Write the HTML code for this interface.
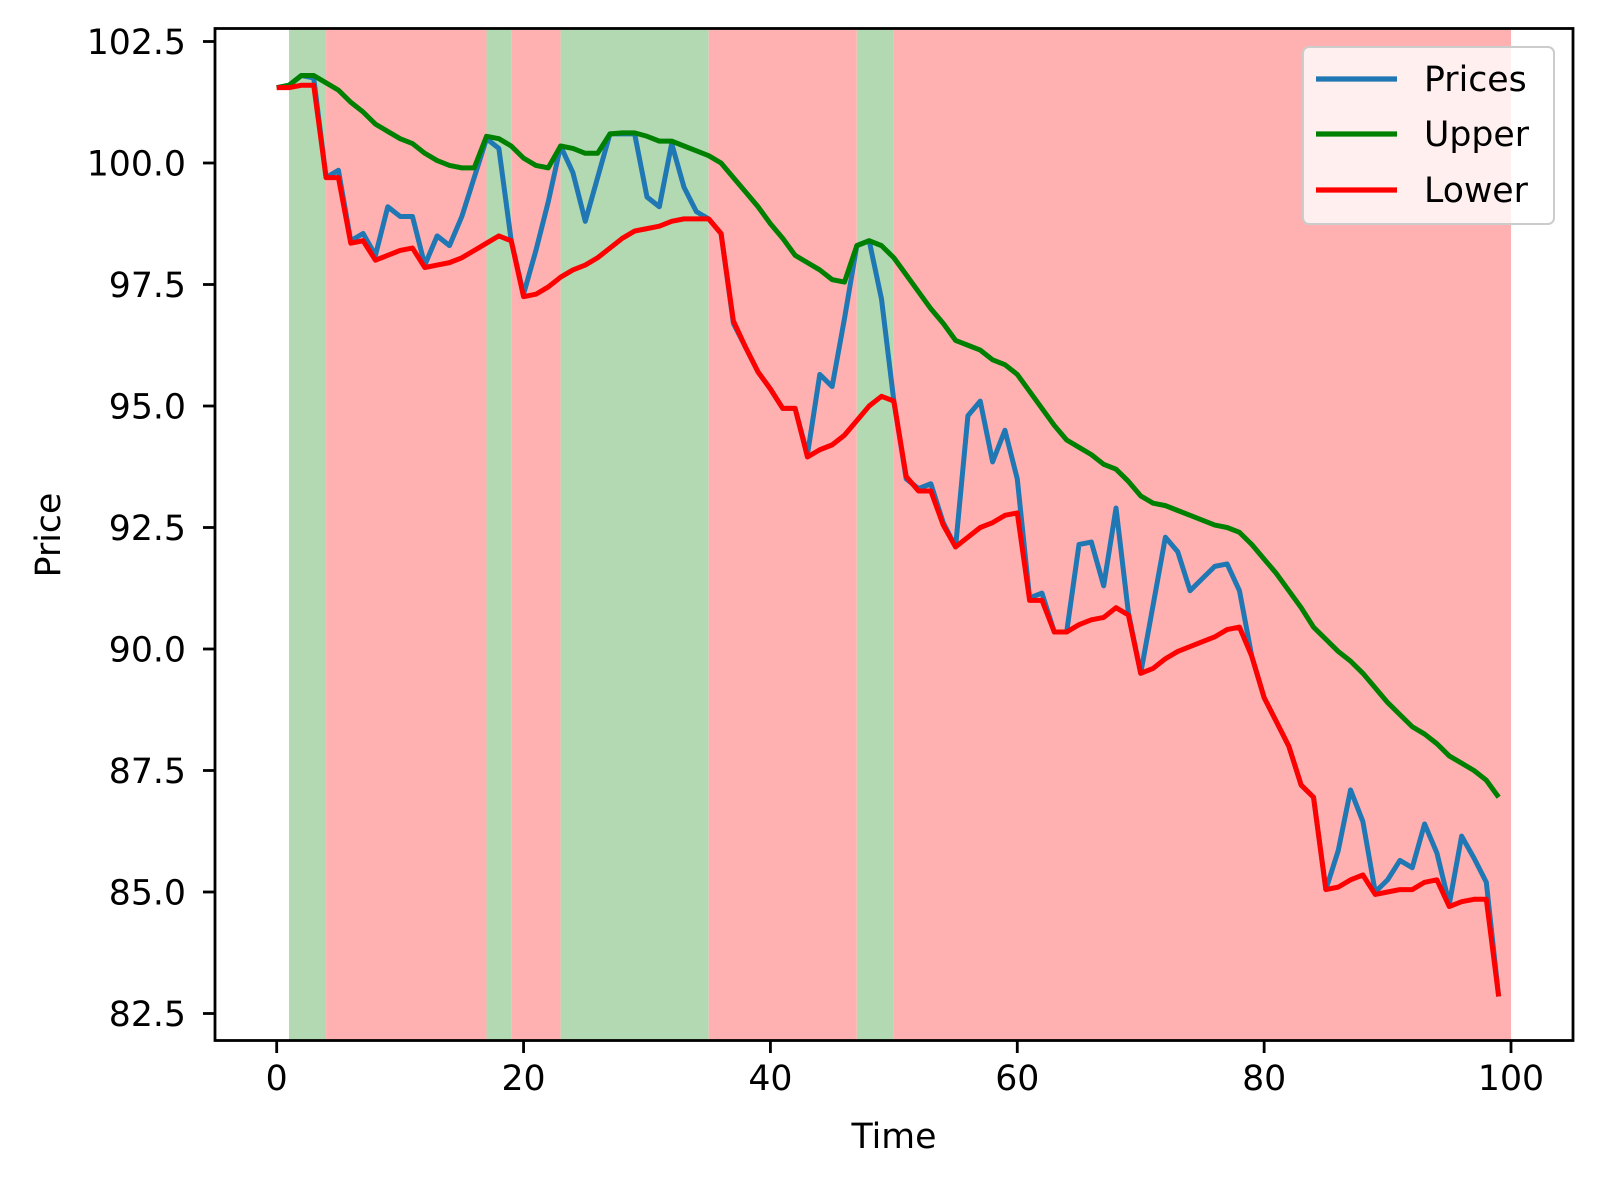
<!DOCTYPE html>
<html><head><meta charset="utf-8"><style>body{margin:0;background:#fff}svg{display:block;font-family:"DejaVu Sans","Liberation Sans",sans-serif}</style></head>
<body>
<svg id="chart" width="1600" height="1183" viewBox="0 0 1600 1183" xmlns="http://www.w3.org/2000/svg">
<g id="spans"></g>
<g id="lines"></g>
<rect x="215" y="28.5" width="1358" height="1012" fill="none" stroke="#000" stroke-width="2.8"/>
<g id="xticks"></g>
<g id="yticks"></g>
<text x="894" y="1148" font-size="34.7" text-anchor="middle">Time</text>
<text transform="translate(60,535) rotate(-90)" font-size="34.7" text-anchor="middle">Price</text>
<g>
<rect x="1303" y="47" width="251" height="177" rx="6" fill="#fff" fill-opacity="0.8" stroke="#ccc" stroke-width="2"/>
<g><line x1="1316" y1="79" x2="1397" y2="79" stroke="#1f77b4" stroke-width="5.2"/><text x="1424" y="91" font-size="34.7">Prices</text></g>
<g><line x1="1316" y1="134" x2="1397" y2="134" stroke="#008000" stroke-width="5.2"/><text x="1424" y="146" font-size="34.7">Upper</text></g>
<g><line x1="1316" y1="190" x2="1397" y2="190" stroke="#ff0000" stroke-width="5.2"/><text x="1424" y="202" font-size="34.7">Lower</text></g>
</g>
</svg>
<script>
const prices=[101.55,101.6,101.8,101.75,99.7,99.85,98.4,98.55,98.1,99.1,98.9,98.9,97.9,98.5,98.3,98.9,99.7,100.5,100.3,98.4,97.3,98.2,99.2,100.35,99.8,98.8,99.7,100.6,100.6,100.6,99.3,99.1,100.4,99.5,99.0,98.85,98.55,96.7,96.2,95.7,95.35,94.95,94.95,94.0,95.65,95.4,96.8,98.3,98.4,97.2,95.1,93.5,93.3,93.4,92.6,92.1,94.8,95.1,93.85,94.5,93.5,91.05,91.15,90.35,90.35,92.15,92.2,91.3,92.9,90.75,89.5,90.9,92.3,92.0,91.2,91.45,91.7,91.75,91.2,89.85,89.0,88.5,88.0,87.2,86.95,85.05,85.85,87.1,86.45,85.0,85.25,85.65,85.5,86.4,85.8,84.75,86.15,85.7,85.2,82.85];
const upper=[101.55,101.6,101.8,101.8,101.65,101.5,101.25,101.05,100.8,100.65,100.5,100.4,100.2,100.05,99.95,99.9,99.9,100.55,100.5,100.35,100.1,99.95,99.9,100.35,100.3,100.2,100.2,100.6,100.62,100.62,100.55,100.45,100.45,100.35,100.25,100.15,100.0,99.7,99.4,99.1,98.75,98.45,98.1,97.95,97.8,97.6,97.55,98.3,98.4,98.3,98.05,97.7,97.35,97.0,96.7,96.35,96.25,96.15,95.95,95.85,95.65,95.3,94.95,94.6,94.3,94.15,94.0,93.8,93.7,93.45,93.15,93.0,92.95,92.85,92.75,92.65,92.55,92.5,92.4,92.15,91.85,91.55,91.2,90.85,90.45,90.2,89.95,89.75,89.5,89.2,88.9,88.65,88.4,88.25,88.05,87.8,87.65,87.5,87.3,86.95];
const lower=[101.55,101.55,101.6,101.6,99.7,99.7,98.35,98.4,98.0,98.1,98.2,98.25,97.85,97.9,97.95,98.05,98.2,98.35,98.5,98.4,97.25,97.3,97.45,97.65,97.8,97.9,98.05,98.25,98.45,98.6,98.65,98.7,98.8,98.85,98.85,98.85,98.55,96.75,96.2,95.7,95.35,94.95,94.95,93.95,94.1,94.2,94.4,94.7,95.0,95.2,95.1,93.55,93.25,93.25,92.55,92.1,92.3,92.5,92.6,92.75,92.8,91.0,91.0,90.35,90.35,90.5,90.6,90.65,90.85,90.7,89.5,89.6,89.8,89.95,90.05,90.15,90.25,90.4,90.45,89.85,89.0,88.5,88.0,87.2,86.95,85.05,85.1,85.25,85.35,84.95,85.0,85.05,85.05,85.2,85.25,84.7,84.8,84.85,84.85,82.85];
const spanStarts=[1,4,17,19,23,35,47,50];
const spanEnds=[4,17,19,23,35,47,50,100];
const spanTypes=["up","down","up","down","up","down","up","down"];
const xTicks=[0,20,40,60,80,100];
const yTicks=[82.5,85.0,87.5,90.0,92.5,95.0,97.5,100.0,102.5];
const NS="http://www.w3.org/2000/svg";
const X=v=>276.7+v*12.343;
const Y=v=>41.5+(102.5-v)*48.6;
function mk(t,a,p){const e=document.createElementNS(NS,t);for(const k in a)e.setAttribute(k,a[k]);p.appendChild(e);return e;}
const sp=document.getElementById('spans');
spanStarts.forEach((s,i)=>{const r=mk('rect',{x:X(s),y:29,width:X(spanEnds[i])-X(s),height:1011,fill:spanTypes[i]==='up'?'#b3d9b3':'#ffb1b1'},sp);

});
const ln=document.getElementById('lines');
[[prices,'#1f77b4','prices-line'],[upper,'#008000','upper-line'],[lower,'#ff0000','lower-line']].forEach(([d,c,n])=>{
const p=mk('polyline',{points:d.map((v,i)=>X(i)+','+Y(v)).join(' '),fill:'none',stroke:c,'stroke-width':5,'stroke-linejoin':'round'},ln);

});
const xt=document.getElementById('xticks');
xTicks.forEach(v=>{mk('line',{x1:X(v),x2:X(v),y1:1041,y2:1053,stroke:'#000','stroke-width':2.8},xt);
const t=mk('text',{x:X(v),y:1090,'font-size':34.7,'text-anchor':'middle'},xt);t.textContent=v;

});
const yt=document.getElementById('yticks');
yTicks.forEach(v=>{mk('line',{x1:203,x2:215,y1:Y(v),y2:Y(v),stroke:'#000','stroke-width':2.8},yt);
const t=mk('text',{x:186,y:Y(v)+12.6,'font-size':34.7,'text-anchor':'end'},yt);t.textContent=v.toFixed(1);

});
</script>
</body></html>
